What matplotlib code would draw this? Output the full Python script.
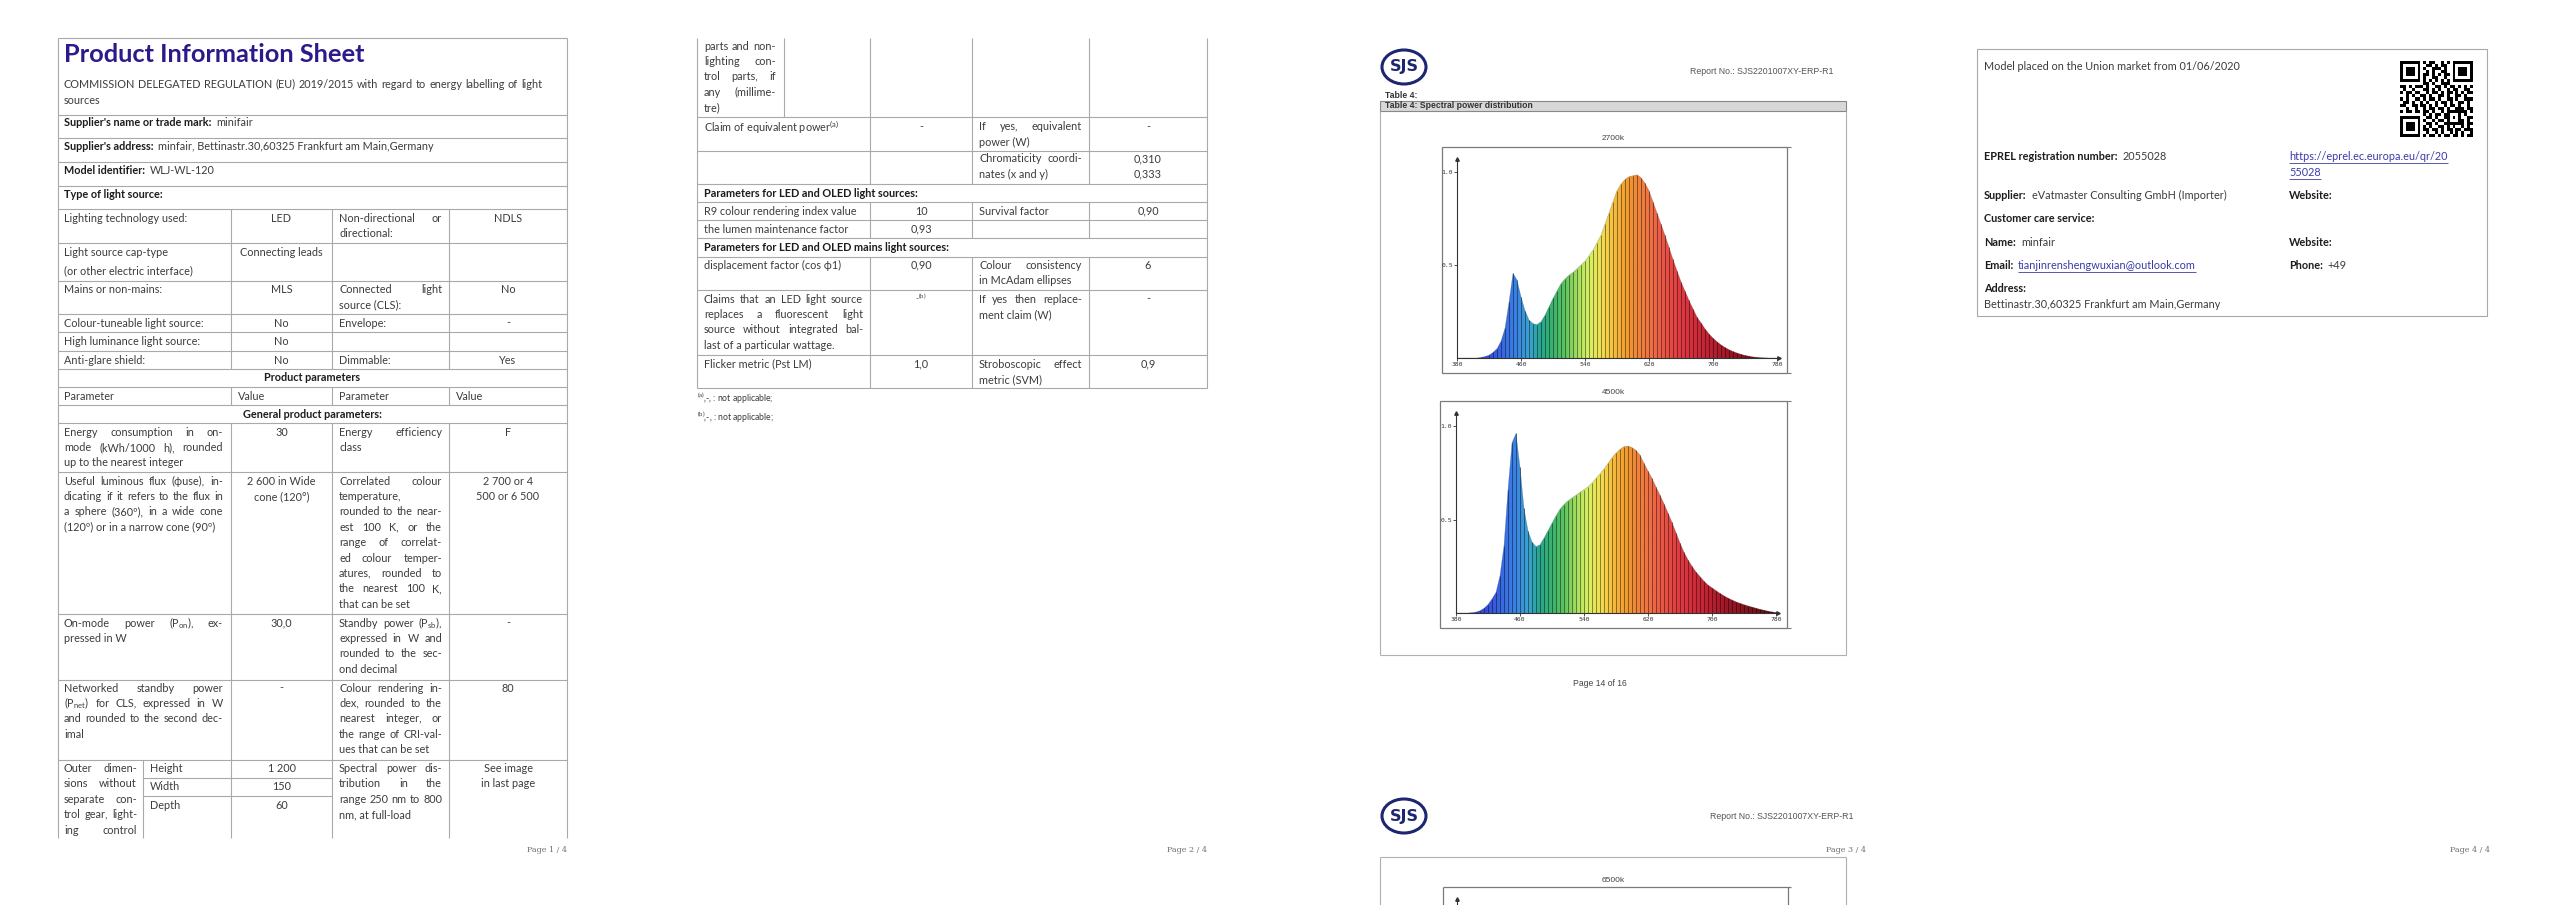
import matplotlib
matplotlib.use('Agg')
import numpy as np
import matplotlib.pyplot as plt
from matplotlib.patches import Rectangle, Ellipse
from matplotlib.colors import LinearSegmentedColormap, to_rgb

plt.rcParams['font.family'] = ['Lato', 'DejaVu Sans']
plt.rcParams['mathtext.fontset'] = 'custom'
plt.rcParams['mathtext.rm'] = 'Lato'
plt.rcParams['mathtext.default'] = 'rm'

# relative spectral power (5 nm steps)
wavelength = list(range(380, 785, 5))
spd_2700k = [0, 0, 0, 0, 0, 0, 0.003, 0.008, 0.015, 0.03,
             0.05, 0.09, 0.16, 0.30, 0.455, 0.42, 0.33, 0.255, 0.205, 0.185,
             0.18, 0.195, 0.23, 0.275, 0.32, 0.36, 0.40, 0.425, 0.445, 0.46,
             0.48, 0.50, 0.52, 0.55, 0.58, 0.62, 0.66, 0.72, 0.78, 0.84,
             0.90, 0.935, 0.96, 0.975, 0.98, 0.985, 0.97, 0.94, 0.90, 0.84,
             0.78, 0.72, 0.66, 0.595, 0.53, 0.47, 0.41, 0.36, 0.31, 0.265,
             0.22, 0.19, 0.157, 0.13, 0.107, 0.088, 0.071, 0.057, 0.045, 0.035,
             0.027, 0.02, 0.014, 0.01, 0.006, 0.004, 0.002, 0.001, 0, 0, 0]
spd_4500k = [0, 0, 0, 0, 0.002, 0.005, 0.012, 0.025, 0.045, 0.075,
             0.11, 0.2, 0.36, 0.66, 0.91, 0.96, 0.78, 0.56, 0.44, 0.38,
             0.355, 0.365, 0.40, 0.44, 0.48, 0.52, 0.555, 0.58, 0.60, 0.615,
             0.63, 0.645, 0.66, 0.675, 0.695, 0.72, 0.745, 0.77, 0.80, 0.83,
             0.855, 0.875, 0.89, 0.893, 0.885, 0.87, 0.845, 0.80, 0.76, 0.72,
             0.675, 0.63, 0.585, 0.535, 0.485, 0.43, 0.375, 0.325, 0.285, 0.25,
             0.22, 0.195, 0.17, 0.15, 0.135, 0.12, 0.105, 0.092, 0.08, 0.07,
             0.06, 0.052, 0.045, 0.038, 0.032, 0.026, 0.02, 0.015, 0.01, 0.006, 0.003]
x_ticks = [380, 460, 540, 620, 700, 780]
y_ticks = [0.5, 1.0]

W, H = 2560, 905
LINE = '#a9a9a9'
TEXT = '#3c3c3c'
DARK = '#1c1c1c'
TITLE = '#2b1a8a'
LINK = '#3b3ba8'
BODY = 7.8
STEP = 15.4

fig = plt.figure(figsize=(W / 100, H / 100), dpi=100)
doc = fig.add_axes([0, 0, 1, 1])
doc.axis('off')
doc.set_xlim(0, W)
doc.set_ylim(H, 0)
doc.set_autoscale_on(False)
renderer = fig.canvas.get_renderer()


def hl(y, x0, x1, c=LINE, lw=0.8):
    doc.plot([x0, x1], [y, y], color=c, lw=lw, solid_capstyle='butt')


def vl(x, y0, y1, c=LINE, lw=0.8):
    doc.plot([x, x], [y0, y1], color=c, lw=lw, solid_capstyle='butt')


def t(x, y, s, size=BODY, color=TEXT, bold=False, ha='left', family=None):
    kw = dict(fontsize=size, color=color, ha=ha, va='center',
              fontweight='bold' if bold else 'normal')
    if family:
        kw['family'] = family
    return doc.text(x, y, s, **kw)


def lines(x, y, rows, ha='left', step=STEP, **kw):
    for i, s in enumerate(rows):
        t(x, y + i * step, s, ha=ha, **kw)


def justify(x0, x1, y, s, **kw):
    words = s.split(' ')
    arts = [t(0, y, w, **kw) for w in words]
    widths = [a.get_window_extent(renderer).width for a in arts]
    gap = max((x1 - x0 - sum(widths)) / (len(words) - 1), 2.5)
    x = x0
    for a, w in zip(arts, widths):
        a.set_x(x)
        x += w + gap


def para(x0, x1, y, rows, last=False, step=STEP, **kw):
    for i, s in enumerate(rows):
        yy = y + i * step
        if (i < len(rows) - 1 or last) and ' ' in s:
            justify(x0, x1, yy, s, **kw)
        else:
            t(x0, yy, s, **kw)


def lab_val(x, y, label, value, vcolor=TEXT, underline=False):
    a = t(x, y, label, color=DARK, bold=True)
    x1 = a.get_window_extent(renderer).x1 + 5
    b = t(x1, y, value, color=vcolor)
    if underline:
        bb = b.get_window_extent(renderer)
        hl(y + 7, bb.x0, bb.x1, c=vcolor, lw=0.6)
    return b


def link(x, y, s):
    b = t(x, y, s, color=LINK)
    bb = b.get_window_extent(renderer)
    hl(y + 7, bb.x0, bb.x1, c=LINK, lw=0.6)


def page_no(x, s):
    t(x, 850, s, size=5.8, color='#707070', ha='right', family='DejaVu Serif')


# ---------------- page 1 ----------------
L1, R1 = 58, 567
C1, C2, C3 = 231, 332, 449
vl(L1, 38, 838)
vl(R1, 38, 838)
for y in [38, 115, 138, 162, 186, 209, 243, 281, 314, 332, 351, 369, 387, 405, 423,
          472, 614, 680, 760]:
    hl(y, L1, R1)
for x in [C1, C2, C3]:
    vl(x, 209, 369)
    vl(x, 387, 405)
    vl(x, 423, 838)
vl(143, 760, 838)
hl(778, 143, C2)
hl(796, 143, C2)

t(64, 55, 'Product Information Sheet', size=18.3, color=TITLE, bold=True)
justify(64, 542, 84, 'COMMISSION DELEGATED REGULATION (EU) 2019/2015 with regard to energy labelling of light')
t(64, 100, 'sources')
lab_val(64, 123, "Supplier's name or trade mark:", 'minifair')
lab_val(64, 147, "Supplier's address:", 'minfair, Bettinastr.30,60325 Frankfurt am Main,Germany')
lab_val(64, 170, 'Model identifier:', 'WLJ-WL-120')
t(64, 194, 'Type of light source:', color=DARK, bold=True)

m2, m4, x3 = (C1 + C2) / 2, (C3 + R1) / 2, C2 + 7
t(64, 218, 'Lighting technology used:')
t(m2, 218, 'LED', ha='center')
para(x3, 442, 218, ['Non-directional or', 'directional:'])
t(m4, 218, 'NDLS', ha='center')
t(64, 252, 'Light source cap-type')
t(64, 271, '(or other electric interface)')
t(m2, 252, 'Connecting leads', ha='center')
t(64, 289, 'Mains or non-mains:')
t(m2, 289, 'MLS', ha='center')
para(x3, 442, 289, ['Connected light', 'source (CLS):'])
t(m4, 289, 'No', ha='center')
t(64, 323, 'Colour-tuneable light source:')
t(m2, 323, 'No', ha='center')
t(x3, 323, 'Envelope:')
t(m4, 323, '-', ha='center')
t(64, 341, 'High luminance light source:')
t(m2, 341, 'No', ha='center')
t(64, 360, 'Anti-glare shield:')
t(m2, 360, 'No', ha='center')
t(x3, 360, 'Dimmable:')
t(m4, 360, 'Yes', ha='center')

t((L1 + R1) / 2, 377, 'Product parameters', color=DARK, bold=True, ha='center')
t(64, 396, 'Parameter')
t(C1 + 7, 396, 'Value')
t(x3, 396, 'Parameter')
t(C3 + 7, 396, 'Value')
t((L1 + R1) / 2, 414, 'General product parameters:', color=DARK, bold=True, ha='center')

para(64, 223, 432, ['Energy consumption in on-', 'mode (kWh/1000 h), rounded', 'up to the nearest integer'])
t(m2, 432, '30', ha='center')
para(x3, 442, 432, ['Energy efficiency', 'class'])
t(m4, 432, 'F', ha='center')

para(64, 223, 481, ['Useful luminous flux (ϕuse), in-', 'dicating if it refers to the flux in',
                    'a sphere (360º), in a wide cone', '(120º) or in a narrow cone (90º)'])
lines(m2, 481, ['2 600 in Wide', 'cone (120°)'], ha='center')
para(x3, 442, 481, ['Correlated colour', 'temperature,', 'rounded to the near-', 'est 100 K, or the',
                    'range of correlat-', 'ed colour temper-', 'atures, rounded to',
                    'the nearest 100 K,', 'that can be set'])
lines(m4, 481, ['2 700 or 4', '500 or 6 500'], ha='center')

para(64, 223, 623, ['On-mode power (P$_{on}$), ex-', 'pressed in W'])
t(m2, 623, '30,0', ha='center')
para(x3, 442, 623, ['Standby power (P$_{sb}$),', 'expressed in W and', 'rounded to the sec-', 'ond decimal'])
t(m4, 623, '-', ha='center')

para(64, 223, 688, ['Networked standby power', '(P$_{net}$) for CLS, expressed in W',
                    'and rounded to the second dec-', 'imal'])
t(m2, 688, '-', ha='center')
para(x3, 442, 688, ['Colour rendering in-', 'dex, rounded to the', 'nearest integer, or',
                    'the range of CRI-val-', 'ues that can be set'])
t(m4, 688, '80', ha='center')

para(64, 137, 768, ['Outer dimen-', 'sions without', 'separate con-', 'trol gear, light-', 'ing control'],
     last=True, step=15.6)
for y, name, val in [(768, 'Height', '1 200'), (786, 'Width', '150'), (805, 'Depth', '60')]:
    t(150, y, name)
    t(m2, y, val, ha='center')
para(x3, 442, 768, ['Spectral power dis-', 'tribution in the', 'range 250 nm to 800', 'nm, at full-load'],
     step=15.6)
lines(m4, 768, ['See image', 'in last page'], ha='center', step=15.6)
page_no(R1, 'Page 1 / 4')

# ---------------- page 2 ----------------
L2, R2 = 697, 1207
D1, D2, D3 = 870, 972, 1089
vl(L2, 38, 388)
vl(R2, 38, 388)
for y in [117, 151, 184, 202, 220, 238, 257, 290, 355, 388]:
    hl(y, L2, R2)
for x in [D1, D2, D3]:
    vl(x, 38, 184)
    vl(x, 202, 238)
    vl(x, 257, 388)
vl(784, 38, 117)
n2, n4, y3 = (D1 + D2) / 2, (D3 + R2) / 2, D2 + 7

para(704, 776, 46, ['parts and non-', 'lighting con-', 'trol parts, if', 'any (millime-', 'tre)'])
t(704, 127, 'Claim of equivalent power$^{(a)}$')
t(n2, 127, '-', ha='center')
para(y3, 1082, 127, ['If yes, equivalent', 'power (W)'])
t(n4, 127, '-', ha='center')
para(y3, 1082, 159, ['Chromaticity coordi-', 'nates (x and y)'])
lines(n4, 159, ['0,310', '0,333'], ha='center')
t(704, 193, 'Parameters for LED and OLED light sources:', color=DARK, bold=True)
t(704, 211, 'R9 colour rendering index value')
t(n2, 211, '10', ha='center')
t(y3, 211, 'Survival factor')
t(n4, 211, '0,90', ha='center')
t(704, 229, 'the lumen maintenance factor')
t(n2, 229, '0,93', ha='center')
t(704, 247, 'Parameters for LED and OLED mains light sources:', color=DARK, bold=True)
t(704, 265, 'displacement factor (cos ϕ1)')
t(n2, 265, '0,90', ha='center')
para(y3, 1082, 265, ['Colour consistency', 'in McAdam ellipses'])
t(n4, 265, '6', ha='center')
para(704, 863, 299, ['Claims that an LED light source', 'replaces a fluorescent light',
                     'source without integrated bal-', 'last of a particular wattage.'])
t(n2, 297, '-$^{(b)}$', size=6, ha='center')
para(y3, 1082, 299, ['If yes then replace-', 'ment claim (W)'])
t(n4, 299, '-', ha='center')
t(704, 364, 'Flicker metric (Pst LM)')
t(n2, 364, '1,0', ha='center')
para(y3, 1082, 364, ['Stroboscopic effect', 'metric (SVM)'])
t(n4, 364, '0,9', ha='center')
t(L2, 398, "$^{(a)}$‚-‚ : not applicable;", size=6.2)
t(L2, 417, "$^{(b)}$‚-‚ : not applicable;", size=6.2)
page_no(R2, 'Page 2 / 4')

# ---------------- page 3 (scanned report page) ----------------
NAVY = '#1d2670'
ARIAL = 'Liberation Sans'
for cy in [67, 816]:
    doc.add_patch(Ellipse((1404, cy), 44, 34, fill=False, ec=NAVY, lw=2.2))
    t(1404, cy, 'SJS', size=11.5, color=NAVY, bold=True, ha='center', family='DejaVu Sans')
t(1833, 72, 'Report No.: SJS2201007XY-ERP-R1', size=6.3, color='#555555', ha='right', family=ARIAL)
t(1853, 816, 'Report No.: SJS2201007XY-ERP-R1', size=6.3, color='#555555', ha='right', family=ARIAL)
t(1385, 95, 'Table 4:', size=6.2, color='#333333', bold=True, family=ARIAL)
doc.add_patch(Rectangle((1380, 101), 466, 10, fc='#d8d8d8', ec='#888888', lw=0.8))
t(1385, 106, 'Table 4: Spectral power distribution', size=6.2, color='#333333', bold=True, family=ARIAL)
vl(1380, 111, 655, c='#b0b0b0')
vl(1846, 111, 655, c='#b0b0b0')
hl(655, 1380, 1846, c='#b0b0b0')
t(1600, 683, 'Page 14 of 16', size=6.2, color='#444444', ha='center', family=ARIAL)
page_no(1866, 'Page 3 / 4')

# chart frames
FR = '#7a7a7a'
doc.add_patch(Rectangle((1442, 147), 345, 226, fill=False, ec=FR, lw=0.9))
doc.add_patch(Rectangle((1440, 401), 347, 227, fill=False, ec=FR, lw=0.9))
hl(147, 1787, 1791, c=FR)
hl(373, 1787, 1791, c=FR)
hl(401, 1787, 1791, c=FR)
hl(628, 1787, 1791, c=FR)
t(1613, 138, '2700k', size=6, color='#444444', ha='center', family=ARIAL)
t(1613, 392, '4500k', size=6, color='#444444', ha='center', family=ARIAL)

# bottom continuation (6500k)
vl(1380, 857, 905, c='#b0b0b0')
vl(1846, 857, 905, c='#b0b0b0')
hl(857, 1380, 1846, c='#b0b0b0')
t(1613, 880, '6500k', size=6, color='#444444', ha='center', family=ARIAL)
hl(887, 1443, 1791, c=FR, lw=0.9)
vl(1443, 887, 905, c=FR, lw=0.9)
vl(1788, 887, 905, c=FR, lw=0.9)
vl(1457, 900, 905, c='#333333', lw=0.8)
doc.plot([1457], [899], marker='^', ms=2.5, color='#333333')

spec = LinearSegmentedColormap.from_list('spec', [
    (0.00, '#3a30c8'), (0.10, '#3552dc'), (0.175, '#3a7de6'), (0.225, '#3aa2d0'),
    (0.26, '#27a68c'), (0.30, '#3cb46c'), (0.335, '#5cc35e'), (0.375, '#a6de5e'),
    (0.41, '#d6f062'), (0.45, '#f2df4e'), (0.485, '#f6c040'), (0.525, '#f2a030'),
    (0.56, '#f08838'), (0.61, '#f06c46'), (0.66, '#e84c44'), (0.71, '#dc3640'),
    (0.775, '#c42434'), (0.85, '#9c1626'), (0.95, '#701018'), (1.00, '#501010')])


def spectrum(left, zero, unit, values):
    xr = 403 * 0.8
    ax = fig.add_axes([left / W, 1 - zero / H, xr / W, 1.07 * unit / H])
    # smooth area filled with a wavelength gradient, clipped to the curve
    area = ax.fill_between(wavelength, values, color='none', lw=0)
    grad = ax.imshow(np.linspace(0, 1, 400)[None, :], cmap=spec, extent=(380, 780, 0, 1.07),
                     aspect='auto', interpolation='bilinear', zorder=1)
    grad.set_clip_path(area.get_paths()[0], transform=ax.transData)
    # dark stripes, one per sample
    cols = [spec((w - 380) / 400) for w in wavelength]
    edges = [tuple(0.45 * v for v in to_rgb(c)) for c in cols]
    ax.vlines(wavelength, 0, values, colors=edges, lw=0.55, zorder=2)
    ax.plot(wavelength, values, color='#555555', lw=0.3, alpha=0.5, zorder=2)
    ax.set_xlim(380, 783)
    ax.set_ylim(0, 1.07)
    ax.patch.set_alpha(0)
    for s in ['top', 'right']:
        ax.spines[s].set_visible(False)
    for s in ['left', 'bottom']:
        ax.spines[s].set_color('#333333')
        ax.spines[s].set_linewidth(0.8)
        ax.spines[s].set_zorder(3)
    ax.plot([380], [1.07], marker='^', ms=2.5, color='#333333', clip_on=False)
    ax.plot([783], [0], marker='>', ms=2.5, color='#333333', clip_on=False)
    ax.set_xticks(x_ticks)
    ax.set_xticklabels([str(v) for v in x_ticks], family='DejaVu Sans Mono')
    ax.set_yticks(y_ticks)
    ax.set_yticklabels(['0.5', '1.0'], family='DejaVu Sans Mono')
    ax.tick_params(length=2, width=0.6, labelsize=4.6, pad=1, colors='#333333')
    return ax


spectrum(1457, 358, 186, spd_2700k)
spectrum(1456, 613, 187, spd_4500k)

# ---------------- page 4 ----------------
doc.add_patch(Rectangle((1977, 49), 510, 267, fill=False, ec=LINE, lw=0.8))
t(1984, 67, 'Model placed on the Union market from 01/06/2020')
qr_rows = [
    "#######.#.##..#.#.#######",
    "#.....#..##.#.##..#.....#",
    "#.###.#.#..###.#..#.###.#",
    "#.###.#..#.#..##..#.###.#",
    "#.###.#.##.#.#.##.#.###.#",
    "#.....#.#..##..#..#.....#",
    "#######.#.#.#.#.#.#######",
    "........##.#..###........",
    "##.#.###.#..##.#.##.#.#.#",
    ".#..#...##.#.#..#.##..##.",
    "#.##.##..#.##.#.##.#.#.##",
    "..#.#..##.#..##.#..##.#..",
    "#.#..##.#.##.#..##.#..###",
    ".##.#..#.#..#.##.#..##.#.",
    "##..##.##.#.#..#.##.#..#.",
    "..#..#..#.##.##.#..###.##",
    "#.##.##.##.#..#.#######.#",
    "........#.#.##.##...#.#..",
    "#######..##.#..##.#.#..##",
    "#.....#.#..#.##.#...##.#.",
    "#.###.#..##.#..#######.##",
    "#.###.#.#.#..##.#.#..#.#.",
    "#.###.#.##.##.#.##.##.###",
    "#.....#..#..#.#..#.#.#..#",
    "#######.#.##.#.##.##.#.##",
]
qr = np.array([[1 if ch == '#' else 0 for ch in r.ljust(25, '.')[:25]] for r in qr_rows])
doc.imshow(qr, cmap='gray_r', extent=(2400, 2473, 137, 61), interpolation='nearest',
           aspect='auto', zorder=3)
lab_val(1984, 156, 'EPREL registration number:', '2055028')
link(2289, 156, 'https://eprel.ec.europa.eu/qr/20')
link(2289, 172, '55028')
lab_val(1984, 195, 'Supplier:', 'eVatmaster Consulting GmbH (Importer)')
t(2289, 195, 'Website:', color=DARK, bold=True)
t(1984, 218, 'Customer care service:', color=DARK, bold=True)
lab_val(1984, 242, 'Name:', 'minfair')
t(2289, 242, 'Website:', color=DARK, bold=True)
lab_val(1984, 265, 'Email:', 'tianjinrenshengwuxian@outlook.com', vcolor=LINK, underline=True)
lab_val(2289, 265, 'Phone:', '+49')
t(1984, 288, 'Address:', color=DARK, bold=True)
t(1984, 304, 'Bettinastr.30,60325 Frankfurt am Main,Germany')
page_no(2490, 'Page 4 / 4')

doc.set_xlim(0, W)
doc.set_ylim(H, 0)
fig.savefig('out.png', dpi=100)
